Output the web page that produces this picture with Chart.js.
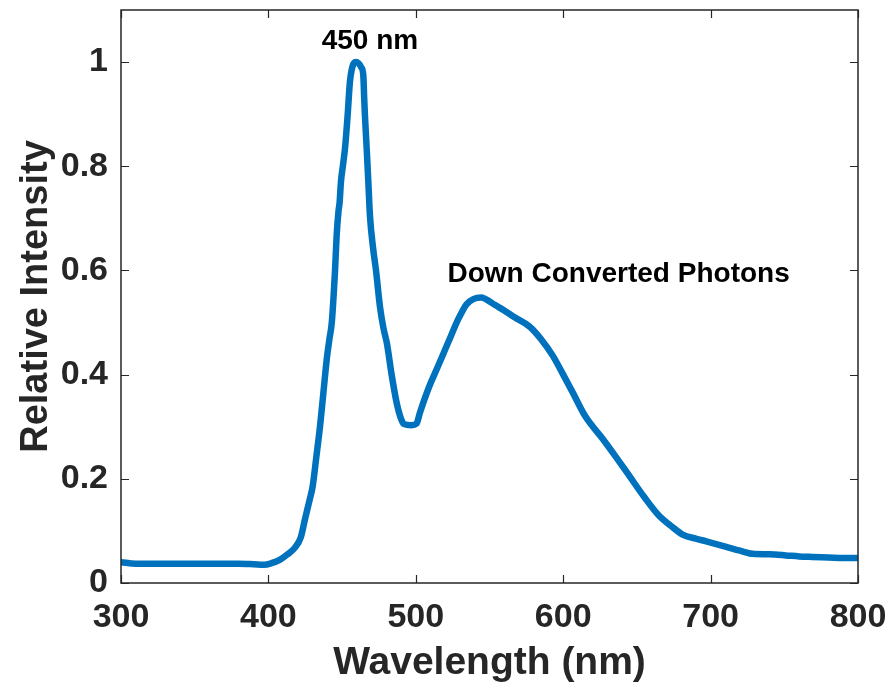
<!DOCTYPE html>
<html>
<head>
<meta charset="utf-8">
<script src="https://cdn.jsdelivr.net/npm/chart.js@4.4.1/dist/chart.umd.min.js"></script>
<style>
html,body{margin:0;padding:0;background:#fff;}
#wrap{width:891px;height:684px;}
</style>
</head>
<body>
<div id="wrap"><canvas id="c" width="891" height="684"></canvas></div>
<script>
// ---- data ----
const wavelength = [300,310,320,340,360,380,390,397,402,408,413,418,422,425,428,430,432.3,435,437.3,439.6,441.5,443,445.2,446.3,447.6,448.3,449.2,450.5,452,453.8,455.3,456.5,458,459.5,461,463,464.4,465,465.5,466.7,467.8,468.9,471.1,473,475.7,478,480.4,483.6,487,490,492,497,500.5,502.8,508.4,515.2,522,528.7,532,534.4,539,544.6,548,553.6,560,567,577.3,585,593,600,606.6,615,627,635,645,655,665.4,673,681,690,697,710,720,728.6,740,751,760,769,780,790,800];
const intensity = [0.040,0.037,0.037,0.037,0.037,0.037,0.036,0.035,0.038,0.045,0.055,0.068,0.088,0.125,0.160,0.185,0.237,0.300,0.365,0.430,0.470,0.500,0.600,0.667,0.715,0.730,0.770,0.800,0.835,0.900,0.962,0.985,0.998,1.000,0.998,0.990,0.974,0.930,0.897,0.833,0.770,0.705,0.641,0.600,0.530,0.490,0.460,0.400,0.346,0.315,0.305,0.303,0.306,0.327,0.372,0.417,0.462,0.506,0.524,0.535,0.545,0.548,0.544,0.534,0.523,0.510,0.492,0.468,0.436,0.400,0.365,0.320,0.276,0.245,0.205,0.165,0.128,0.110,0.093,0.085,0.080,0.070,0.062,0.056,0.055,0.053,0.051,0.050,0.049,0.048,0.048];
const xTicks = [300,400,500,600,700,800];
const yTicks = [0,0.2,0.4,0.6,0.8,1];
const yTickLabels = ['0','0.2','0.4','0.6','0.8','1'];
const xTitle = 'Wavelength (nm)';
const yTitle = 'Relative Intensity';
const annotationText = ['450 nm','Down Converted Photons'];
const annotationX = [468.9, 637.6];
const annotationY = [1.039, 0.593];

const FONT = '"Liberation Sans", Arial, Helvetica, sans-serif';
const AXIS = '#262626';

const boxPlugin = {
  id:'boxPlugin',
  afterDatasetsDraw(chart){
    const {ctx, chartArea:a, scales:{x,y}} = chart;
    ctx.save();
    ctx.strokeStyle = AXIS;
    ctx.lineWidth = 1.5;
    ctx.strokeRect(a.left, a.top, a.right-a.left, a.bottom-a.top);
    const L = 8;
    ctx.lineWidth = 1.2;
    ctx.beginPath();
    xTicks.forEach(v=>{
      const px = Math.round(x.getPixelForValue(v))+0.5;
      ctx.moveTo(px,a.bottom); ctx.lineTo(px,a.bottom-L);
      ctx.moveTo(px,a.top); ctx.lineTo(px,a.top+L);
    });
    yTicks.forEach(v=>{
      const py = Math.round(y.getPixelForValue(v))+0.5;
      ctx.moveTo(a.left,py); ctx.lineTo(a.left+L,py);
      ctx.moveTo(a.right,py); ctx.lineTo(a.right-L,py);
    });
    ctx.stroke();
    // annotations
    ctx.fillStyle = '#000';
    ctx.font = 'bold 28px ' + FONT;
    ctx.textAlign = 'center';
    ctx.textBaseline = 'middle';
    annotationText.forEach((t,i)=>{
      ctx.fillText(t, x.getPixelForValue(annotationX[i]), y.getPixelForValue(annotationY[i]));
    });
    ctx.restore();
  }
};

new Chart(document.getElementById('c'), {
  type:'line',
  data:{
    datasets:[{
      data: wavelength.map((w,i)=>({x:w, y:intensity[i]})),
      borderColor:'#0072BD',
      borderWidth:6.5,
      pointRadius:0,
      fill:false,
      cubicInterpolationMode:'monotone',
      borderCapStyle:'round',
      borderJoinStyle:'round'
    }]
  },
  options:{
    responsive:false,
    animation:false,
    layout:{padding:{top:10,right:33,left:0,bottom:0}},
    plugins:{legend:{display:false}, tooltip:{enabled:false}},
    scales:{
      x:{
        type:'linear', min:300, max:800,
        afterFit(s){ s.height = 101; s.paddingLeft = 0; s.paddingRight = 0; },
        afterBuildTicks(s){ s.ticks = xTicks.map(v=>({value:v})); },
        grid:{display:false, drawTicks:false},
        border:{display:false},
        ticks:{color:AXIS, font:{family:FONT, size:34, weight:'bold'}, padding:14, maxRotation:0,
          callback:(v)=>String(v)},
        title:{display:true, text:xTitle, color:AXIS, font:{family:FONT, size:39, weight:'bold', lineHeight:1.0}, padding:{top:0,bottom:1}}
      },
      y:{
        type:'linear', min:0, max:1.1,
        afterFit(s){ s.width = 121; s.paddingTop = 0; s.paddingBottom = 0; },
        afterBuildTicks(s){ s.ticks = yTicks.map(v=>({value:v})); },
        grid:{display:false, drawTicks:false},
        border:{display:false},
        ticks:{color:AXIS, font:{family:FONT, size:34, weight:'bold'}, padding:13,
          callback:(v)=>{ const i = yTicks.findIndex(t=>Math.abs(t-v)<1e-9); return i>=0 ? yTickLabels[i] : ''; }},
        title:{display:true, text:yTitle, color:AXIS, font:{family:FONT, size:38, weight:'bold'}, padding:{top:14,bottom:0}}
      }
    }
  },
  plugins:[boxPlugin]
});
</script>
</body>
</html>
